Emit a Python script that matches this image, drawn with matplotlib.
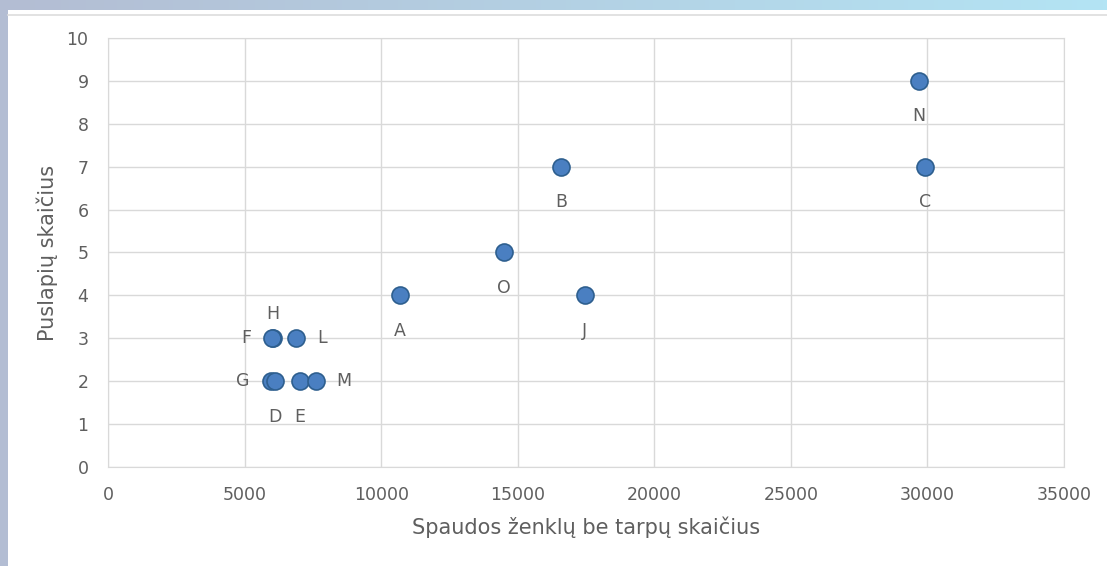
import matplotlib
matplotlib.use("Agg")
import matplotlib.pyplot as plt
import numpy as np
from matplotlib.colors import LinearSegmentedColormap

# duomenys
raides = ["N", "C", "B", "O", "A", "J", "H", "F", "L", "G", "D", "E", "M"]
zenklai = [29700, 29900, 16600, 14500, 10700, 17450, 6050, 6000, 6880, 5950, 6120, 7030, 7600]
puslapiai = [9, 7, 7, 5, 4, 4, 3, 3, 3, 2, 2, 2, 2]
# kur rasyti raide: 'below', 'above', 'left', 'right'
vieta = ["below", "below", "below", "below", "below", "below", "above", "left", "right",
         "left", "below", "below", "right"]

x_ticks = [0, 5000, 10000, 15000, 20000, 25000, 30000, 35000]
y_ticks = list(range(0, 11))

plt.rcParams['font.family'] = ['DejaVu Sans']
tekstas = '#5f5f5f'

fig = plt.figure(figsize=(11.07, 5.66), dpi=100)
fig.patch.set_facecolor('white')

# fono juostos virsuje ir kaireje
band = fig.add_axes([0, 1 - 10 / 566, 1, 10 / 566])
cmap = LinearSegmentedColormap.from_list('band', ['#b3bdd3', '#b3e4f4'])
band.imshow(np.linspace(0, 1, 256).reshape(1, -1), aspect='auto', cmap=cmap,
            extent=[0, 1, 0, 1])
band.axis('off')
left = fig.add_axes([0, 0, 8 / 1107, 1 - 10 / 566])
left.set_facecolor('#b3bdd3')
left.set_xticks([])
left.set_yticks([])
for s in left.spines.values():
    s.set_visible(False)
fig.add_artist(plt.Line2D([8 / 1107, 1], [1 - 15 / 566, 1 - 15 / 566],
                          color='#dddddd', lw=1.2))

ax = fig.add_axes([108 / 1107, 1 - 467 / 566, (1064 - 108) / 1107, (467 - 38) / 566])
ax.set_xlim(0, 35000)
ax.set_ylim(0, 10)
ax.set_xticks(x_ticks)
ax.set_yticks(y_ticks)
ax.grid(True, color='#d9d9d9', lw=1)
ax.set_axisbelow(True)
for s in ax.spines.values():
    s.set_color('#d9d9d9')
ax.tick_params(length=0, labelsize=12.5, labelcolor=tekstas)
ax.tick_params(axis='x', pad=14)
ax.tick_params(axis='y', pad=14)

ax.scatter(zenklai, puslapiai, s=150, color='#4a7fc1', edgecolor='#2e5f8f',
           linewidth=1.2, zorder=3, clip_on=False)

offsets = {'below': (0, -19, 'center', 'top'), 'above': (0, 11, 'center', 'bottom'),
           'left': (-15, 0, 'right', 'center'), 'right': (15, 0, 'left', 'center')}
for r, x, y, v in zip(raides, zenklai, puslapiai, vieta):
    dx, dy, ha, va = offsets[v]
    ax.annotate(r, (x, y), xytext=(dx, dy), textcoords='offset points',
                ha=ha, va=va, fontsize=12.5, color=tekstas)

ax.set_xlabel('Spaudos ženklų be tarpų skaičius', fontsize=15, color=tekstas, labelpad=9)
ax.set_ylabel('Puslapių skaičius', fontsize=15, color=tekstas, labelpad=6)

fig.savefig('out.png', dpi=100)
